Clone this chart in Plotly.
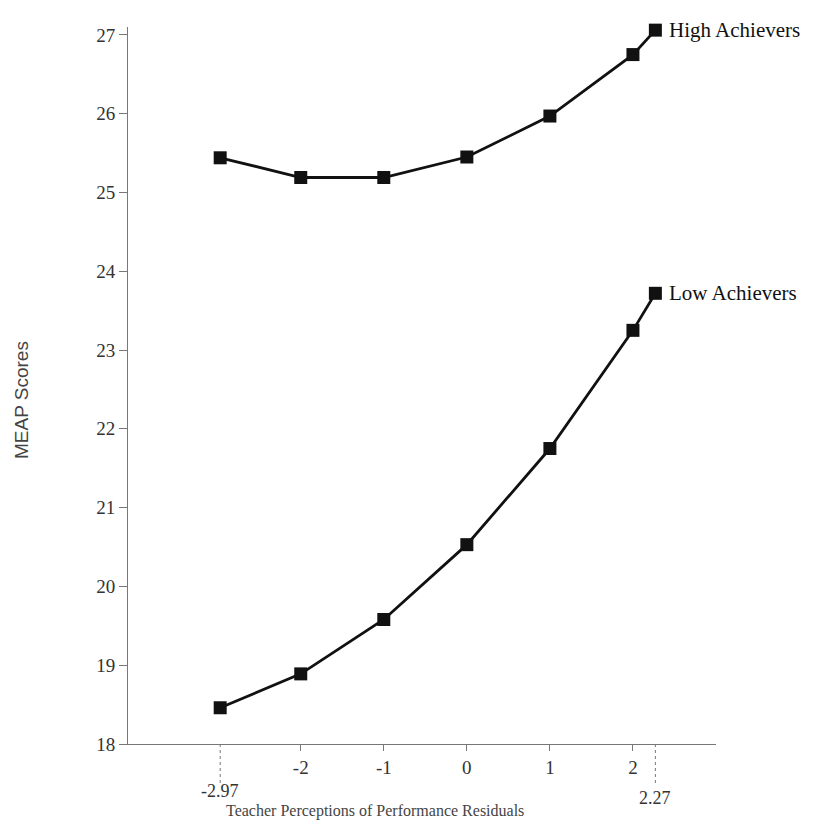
import plotly.graph_objects as go

x_vals = [-2.97, -2, -1, 0, 1, 2, 2.27]
high_achievers = [25.44, 25.19, 25.19, 25.45, 25.97, 26.75, 27.06]
low_achievers = [18.46, 18.89, 19.58, 20.53, 21.75, 23.25, 23.72]
x_tick_vals = [-2, -1, 0, 1, 2]
x_tick_text = ["-2", "-1", "0", "1", "2"]
x_end_ticks = [-2.97, 2.27]
x_end_text = ["-2.97", "2.27"]
x_end_label_y = [-0.066, -0.076]
y_tick_vals = [18, 19, 20, 21, 22, 23, 24, 25, 26, 27]

serif = "Liberation Serif"
fig = go.Figure()
for name, ys in [("High Achievers", high_achievers), ("Low Achievers", low_achievers)]:
    fig.add_trace(go.Scatter(
        x=x_vals, y=ys, mode="lines+markers", name=name,
        line=dict(color="#111111", width=2.8),
        marker=dict(symbol="square", size=13, color="#111111"),
        cliponaxis=False,
    ))
    fig.add_annotation(x=x_vals[-1], y=ys[-1], text=name, showarrow=False,
                       xanchor="left", yanchor="middle", xshift=12,
                       font=dict(family=serif, size=21, color="#111111"))

for xv, txt, ly in zip(x_end_ticks, x_end_text, x_end_label_y):
    fig.add_shape(type="line", xref="x", yref="paper", x0=xv, x1=xv, y0=0, y1=-0.055,
                  line=dict(color="#777777", width=1, dash="dot"))
    fig.add_annotation(x=xv, y=ly, xref="x", yref="paper", text=txt, showarrow=False,
                       xanchor="center", yanchor="middle",
                       font=dict(family=serif, size=18, color="#333333"))

fig.add_annotation(x=-1.1, y=-0.093, xref="x", yref="paper",
                   text="Teacher Perceptions of Performance Residuals", showarrow=False,
                   xanchor="center", yanchor="middle",
                   font=dict(family=serif, size=16, color="#444444"))
fig.add_annotation(x=-0.18, y=0.48, xref="paper", yref="paper", text="MEAP Scores",
                   showarrow=False, textangle=-90, xanchor="center", yanchor="middle",
                   font=dict(family="Liberation Sans", size=19, color="#444444"))

fig.update_layout(
    width=824, height=829,
    margin=dict(l=120, r=116, t=19, b=93),
    paper_bgcolor="white", plot_bgcolor="white",
    showlegend=False,
    xaxis=dict(range=[-4.08, 3.0], tickvals=x_tick_vals, ticktext=x_tick_text,
               showgrid=False, zeroline=False, showline=True, linecolor="#777777", linewidth=1,
               ticks="outside", ticklen=6, tickcolor="#777777",
               tickfont=dict(family=serif, size=19, color="#333333")),
    yaxis=dict(range=[18, 27.1], tickvals=y_tick_vals,
               showgrid=False, zeroline=False, showline=True, linecolor="#777777", linewidth=1,
               ticks="outside", ticklen=8, tickcolor="#777777",
               tickfont=dict(family=serif, size=19, color="#333333")),
)
fig.write_html("out.html")
